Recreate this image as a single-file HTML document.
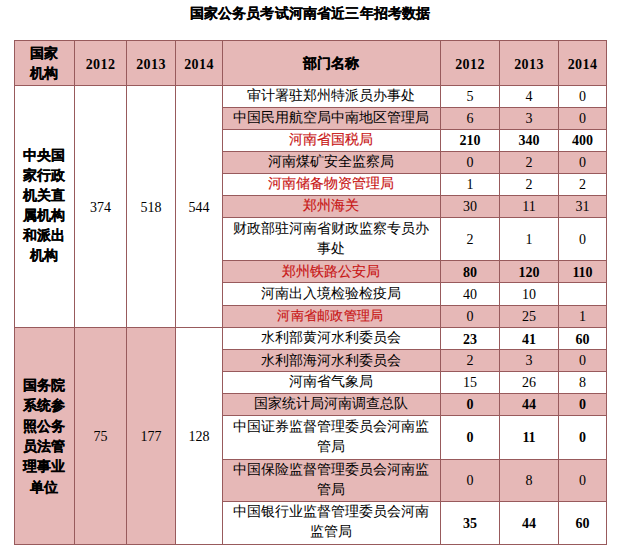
<!DOCTYPE html>
<html><head><meta charset="utf-8"><style>
html,body{margin:0;padding:0;background:#fff;width:618px;height:550px;overflow:hidden}
body{position:relative;font-family:"Liberation Sans",sans-serif;color:#000}
.b{position:absolute}
.t{position:absolute;display:flex;align-items:center;justify-content:center;text-align:center}
.cj{font-size:14px;line-height:20px}
.cj span{position:relative;top:var(--dy,-2px);left:-1px}
.g2 span{top:0px}
.grp.g2{line-height:20.4px}
.hb.cj span{top:0}
.hb.cj span,.grp span{-webkit-text-stroke:0.2px #000}
.hb.num span{font-size:14px;letter-spacing:0.4px;position:relative;top:1.5px}
.num{font-family:"Liberation Serif",serif;font-size:14px;line-height:16px}
.num span{position:relative;top:var(--ny,0px)}
.bold,.hb{font-weight:bold}
.grp{font-weight:bold;line-height:20px}
.red{color:#c81414}
.red span{-webkit-text-stroke:0.15px #c81414}
.title{position:absolute;left:1px;top:5px;width:618px;text-align:center;font-size:14px;font-weight:bold;line-height:16px;letter-spacing:0.15px;-webkit-text-stroke:0.15px #000}
</style></head><body>
<div class="title">国家公务员考试河南省近三年招考数据</div>
<div class="b" style="left:14px;top:40px;width:592px;height:45px;background:#e6b8b7"></div>
<div class="b" style="left:222px;top:107px;width:384px;height:22px;background:#e6b8b7"></div>
<div class="b" style="left:222px;top:151px;width:384px;height:22px;background:#e6b8b7"></div>
<div class="b" style="left:222px;top:195px;width:384px;height:22px;background:#e6b8b7"></div>
<div class="b" style="left:222px;top:260px;width:384px;height:22px;background:#e6b8b7"></div>
<div class="b" style="left:222px;top:305px;width:384px;height:22px;background:#e6b8b7"></div>
<div class="b" style="left:222px;top:349px;width:384px;height:22px;background:#e6b8b7"></div>
<div class="b" style="left:222px;top:393px;width:384px;height:22px;background:#e6b8b7"></div>
<div class="b" style="left:222px;top:459px;width:384px;height:42px;background:#e6b8b7"></div>
<div class="b" style="left:14px;top:327px;width:161px;height:217px;background:#e6b8b7"></div>
<div class="b" style="left:14px;top:40px;width:1px;height:505px;background:#985a5c"></div>
<div class="b" style="left:74px;top:40px;width:1px;height:505px;background:#985a5c"></div>
<div class="b" style="left:126px;top:40px;width:1px;height:505px;background:#985a5c"></div>
<div class="b" style="left:175px;top:40px;width:1px;height:505px;background:#985a5c"></div>
<div class="b" style="left:222px;top:40px;width:1px;height:505px;background:#985a5c"></div>
<div class="b" style="left:440px;top:40px;width:1px;height:505px;background:#985a5c"></div>
<div class="b" style="left:499px;top:40px;width:1px;height:505px;background:#985a5c"></div>
<div class="b" style="left:558px;top:40px;width:1px;height:505px;background:#985a5c"></div>
<div class="b" style="left:606px;top:40px;width:1px;height:505px;background:#985a5c"></div>
<div class="b" style="left:14px;top:40px;width:593px;height:1px;background:#985a5c"></div>
<div class="b" style="left:14px;top:85px;width:593px;height:1px;background:#985a5c"></div>
<div class="b" style="left:14px;top:327px;width:593px;height:1px;background:#985a5c"></div>
<div class="b" style="left:14px;top:544px;width:593px;height:1px;background:#985a5c"></div>
<div class="b" style="left:222px;top:107px;width:385px;height:1px;background:#985a5c"></div>
<div class="b" style="left:222px;top:129px;width:385px;height:1px;background:#985a5c"></div>
<div class="b" style="left:222px;top:151px;width:385px;height:1px;background:#985a5c"></div>
<div class="b" style="left:222px;top:173px;width:385px;height:1px;background:#985a5c"></div>
<div class="b" style="left:222px;top:195px;width:385px;height:1px;background:#985a5c"></div>
<div class="b" style="left:222px;top:217px;width:385px;height:1px;background:#985a5c"></div>
<div class="b" style="left:222px;top:260px;width:385px;height:1px;background:#985a5c"></div>
<div class="b" style="left:222px;top:282px;width:385px;height:1px;background:#985a5c"></div>
<div class="b" style="left:222px;top:305px;width:385px;height:1px;background:#985a5c"></div>
<div class="b" style="left:222px;top:349px;width:385px;height:1px;background:#985a5c"></div>
<div class="b" style="left:222px;top:371px;width:385px;height:1px;background:#985a5c"></div>
<div class="b" style="left:222px;top:393px;width:385px;height:1px;background:#985a5c"></div>
<div class="b" style="left:222px;top:415px;width:385px;height:1px;background:#985a5c"></div>
<div class="b" style="left:222px;top:459px;width:385px;height:1px;background:#985a5c"></div>
<div class="b" style="left:222px;top:501px;width:385px;height:1px;background:#985a5c"></div>
<div class="t hb cj" style="left:15px;top:41px;width:59px;height:44px;"><span>国家<br>机构</span></div>
<div class="t hb num" style="left:75px;top:41px;width:51px;height:44px;"><span>2012</span></div>
<div class="t hb num" style="left:127px;top:41px;width:48px;height:44px;"><span>2013</span></div>
<div class="t hb num" style="left:176px;top:41px;width:46px;height:44px;"><span>2014</span></div>
<div class="t hb cj" style="left:223px;top:41px;width:217px;height:44px;"><span>部门名称</span></div>
<div class="t hb num" style="left:441px;top:41px;width:58px;height:44px;"><span>2012</span></div>
<div class="t hb num" style="left:500px;top:41px;width:58px;height:44px;"><span>2013</span></div>
<div class="t hb num" style="left:559px;top:41px;width:47px;height:44px;"><span>2014</span></div>
<div class="t grp cj" style="left:15px;top:86px;width:59px;height:241px;"><span>中央国<br>家行政<br>机关直<br>属机构<br>和派出<br>机构</span></div>
<div class="t num" style="left:75px;top:86px;width:51px;height:241px;--ny:1px;"><span>374</span></div>
<div class="t num" style="left:127px;top:86px;width:48px;height:241px;--ny:1px;"><span>518</span></div>
<div class="t num" style="left:176px;top:86px;width:46px;height:241px;--ny:1px;"><span>544</span></div>
<div class="t grp cj g2" style="left:15px;top:328px;width:59px;height:216px;"><span>国务院<br>系统参<br>照公务<br>员法管<br>理事业<br>单位</span></div>
<div class="t num" style="left:75px;top:328px;width:51px;height:216px;--ny:1px;"><span>75</span></div>
<div class="t num" style="left:127px;top:328px;width:48px;height:216px;--ny:1px;"><span>177</span></div>
<div class="t num" style="left:176px;top:328px;width:46px;height:216px;--ny:1px;"><span>128</span></div>
<div class="t cj dept" style="left:223px;top:86px;width:217px;height:21px;"><span>审计署驻郑州特派员办事处</span></div>
<div class="t num" style="left:441px;top:86px;width:58px;height:21px;"><span>5</span></div>
<div class="t num" style="left:500px;top:86px;width:58px;height:21px;"><span>4</span></div>
<div class="t num" style="left:559px;top:86px;width:47px;height:21px;"><span>0</span></div>
<div class="t cj dept" style="left:223px;top:108px;width:217px;height:21px;"><span>中国民用航空局中南地区管理局</span></div>
<div class="t num" style="left:441px;top:108px;width:58px;height:21px;"><span>6</span></div>
<div class="t num" style="left:500px;top:108px;width:58px;height:21px;"><span>3</span></div>
<div class="t num" style="left:559px;top:108px;width:47px;height:21px;"><span>0</span></div>
<div class="t cj dept red" style="left:223px;top:130px;width:217px;height:21px;"><span>河南省国税局</span></div>
<div class="t num bold" style="left:441px;top:130px;width:58px;height:21px;"><span>210</span></div>
<div class="t num bold" style="left:500px;top:130px;width:58px;height:21px;"><span>340</span></div>
<div class="t num bold" style="left:559px;top:130px;width:47px;height:21px;"><span>400</span></div>
<div class="t cj dept" style="left:223px;top:152px;width:217px;height:21px;"><span>河南煤矿安全监察局</span></div>
<div class="t num" style="left:441px;top:152px;width:58px;height:21px;"><span>0</span></div>
<div class="t num" style="left:500px;top:152px;width:58px;height:21px;"><span>2</span></div>
<div class="t num" style="left:559px;top:152px;width:47px;height:21px;"><span>0</span></div>
<div class="t cj dept red" style="left:223px;top:174px;width:217px;height:21px;"><span>河南储备物资管理局</span></div>
<div class="t num" style="left:441px;top:174px;width:58px;height:21px;"><span>1</span></div>
<div class="t num" style="left:500px;top:174px;width:58px;height:21px;"><span>2</span></div>
<div class="t num" style="left:559px;top:174px;width:47px;height:21px;"><span>2</span></div>
<div class="t cj dept red" style="left:223px;top:196px;width:217px;height:21px;"><span>郑州海关</span></div>
<div class="t num" style="left:441px;top:196px;width:58px;height:21px;"><span>30</span></div>
<div class="t num" style="left:500px;top:196px;width:58px;height:21px;"><span>11</span></div>
<div class="t num" style="left:559px;top:196px;width:47px;height:21px;"><span>31</span></div>
<div class="t cj dept" style="left:223px;top:218px;width:217px;height:42px;--dy:-1px;"><span>财政部驻河南省财政监察专员办<br>事处</span></div>
<div class="t num" style="left:441px;top:218px;width:58px;height:42px;--ny:1px;"><span>2</span></div>
<div class="t num" style="left:500px;top:218px;width:58px;height:42px;--ny:1px;"><span>1</span></div>
<div class="t num" style="left:559px;top:218px;width:47px;height:42px;--ny:1px;"><span>0</span></div>
<div class="t cj dept red" style="left:223px;top:261px;width:217px;height:21px;--dy:-1px;"><span>郑州铁路公安局</span></div>
<div class="t num bold" style="left:441px;top:261px;width:58px;height:21px;--ny:1px;"><span>80</span></div>
<div class="t num bold" style="left:500px;top:261px;width:58px;height:21px;--ny:1px;"><span>120</span></div>
<div class="t num bold" style="left:559px;top:261px;width:47px;height:21px;--ny:1px;"><span>110</span></div>
<div class="t cj dept" style="left:223px;top:283px;width:217px;height:22px;--dy:-1px;"><span>河南出入境检验检疫局</span></div>
<div class="t num" style="left:441px;top:283px;width:58px;height:22px;--ny:1px;"><span>40</span></div>
<div class="t num" style="left:500px;top:283px;width:58px;height:22px;--ny:1px;"><span>10</span></div>
<div class="t num" style="left:559px;top:283px;width:47px;height:22px;--ny:1px;"><span></span></div>
<div class="t cj dept red" style="left:223px;top:306px;width:217px;height:21px;font-size:13px;letter-spacing:0.3px;--dy:-1px;"><span>河南省邮政管理局</span></div>
<div class="t num" style="left:441px;top:306px;width:58px;height:21px;"><span>0</span></div>
<div class="t num" style="left:500px;top:306px;width:58px;height:21px;"><span>25</span></div>
<div class="t num" style="left:559px;top:306px;width:47px;height:21px;"><span>1</span></div>
<div class="t cj dept" style="left:223px;top:328px;width:217px;height:21px;"><span>水利部黄河水利委员会</span></div>
<div class="t num bold" style="left:441px;top:328px;width:58px;height:21px;--ny:1px;"><span>23</span></div>
<div class="t num bold" style="left:500px;top:328px;width:58px;height:21px;--ny:1px;"><span>41</span></div>
<div class="t num bold" style="left:559px;top:328px;width:47px;height:21px;--ny:1px;"><span>60</span></div>
<div class="t cj dept" style="left:223px;top:350px;width:217px;height:21px;--dy:-1px;"><span>水利部海河水利委员会</span></div>
<div class="t num" style="left:441px;top:350px;width:58px;height:21px;"><span>2</span></div>
<div class="t num" style="left:500px;top:350px;width:58px;height:21px;"><span>3</span></div>
<div class="t num" style="left:559px;top:350px;width:47px;height:21px;"><span>0</span></div>
<div class="t cj dept" style="left:223px;top:372px;width:217px;height:21px;"><span>河南省气象局</span></div>
<div class="t num" style="left:441px;top:372px;width:58px;height:21px;"><span>15</span></div>
<div class="t num" style="left:500px;top:372px;width:58px;height:21px;"><span>26</span></div>
<div class="t num" style="left:559px;top:372px;width:47px;height:21px;"><span>8</span></div>
<div class="t cj dept" style="left:223px;top:394px;width:217px;height:21px;"><span>国家统计局河南调查总队</span></div>
<div class="t num bold" style="left:441px;top:394px;width:58px;height:21px;"><span>0</span></div>
<div class="t num bold" style="left:500px;top:394px;width:58px;height:21px;"><span>44</span></div>
<div class="t num bold" style="left:559px;top:394px;width:47px;height:21px;"><span>0</span></div>
<div class="t cj dept" style="left:223px;top:416px;width:217px;height:43px;"><span>中国证券监督管理委员会河南监<br>管局</span></div>
<div class="t num bold" style="left:441px;top:416px;width:58px;height:43px;"><span>0</span></div>
<div class="t num bold" style="left:500px;top:416px;width:58px;height:43px;"><span>11</span></div>
<div class="t num bold" style="left:559px;top:416px;width:47px;height:43px;"><span>0</span></div>
<div class="t cj dept" style="left:223px;top:460px;width:217px;height:41px;"><span>中国保险监督管理委员会河南监<br>管局</span></div>
<div class="t num" style="left:441px;top:460px;width:58px;height:41px;"><span>0</span></div>
<div class="t num" style="left:500px;top:460px;width:58px;height:41px;"><span>8</span></div>
<div class="t num" style="left:559px;top:460px;width:47px;height:41px;"><span>0</span></div>
<div class="t cj dept" style="left:223px;top:502px;width:217px;height:42px;"><span>中国银行业监督管理委员会河南<br>监管局</span></div>
<div class="t num bold" style="left:441px;top:502px;width:58px;height:42px;--ny:1px;"><span>35</span></div>
<div class="t num bold" style="left:500px;top:502px;width:58px;height:42px;--ny:1px;"><span>44</span></div>
<div class="t num bold" style="left:559px;top:502px;width:47px;height:42px;--ny:1px;"><span>60</span></div>
</body></html>
